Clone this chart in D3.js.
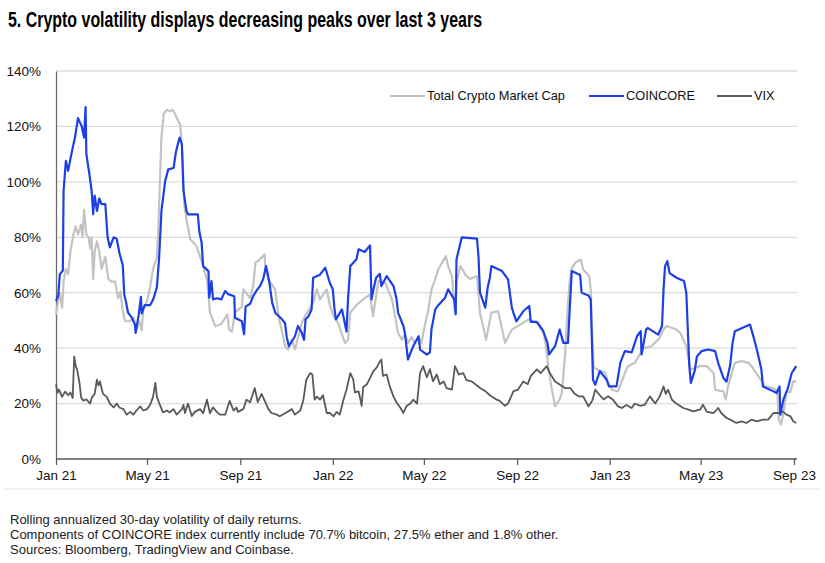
<!DOCTYPE html>
<html><head><meta charset="utf-8">
<script src="https://cdn.jsdelivr.net/npm/d3@7"></script>
<style>
html,body{margin:0;padding:0;background:#fff;}
svg{display:block;}
</style></head>
<body>
<svg id="chart" width="825" height="563"></svg>
<script>
// ---------- DATA (days since 2021-01-01, value in %) ----------
const titleText = "5. Crypto volatility displays decreasing peaks over last 3 years";
const seriesNames = ["Total Crypto Market Cap", "COINCORE", "VIX"];
const yTickValues = [0, 20, 40, 60, 80, 100, 120, 140];
const xTickDates = ["2021-01-01","2021-05-01","2021-09-01","2022-01-01","2022-05-01","2022-09-01","2023-01-01","2023-05-01","2023-09-01"];
const footnotes = [
  "Rolling annualized 30-day volatility of daily returns.",
  "Components of COINCORE index currently include 70.7% bitcoin, 27.5% ether and 1.8% other.",
  "Sources: Bloomberg, TradingView and Coinbase."
];

const coincoreDays = [0,3,5,9,10,13,16,21,25,29,34,37,39,40,44,47,49,51,54,57,60,65,68,71,76,80,84,88,90,92,95,100,104,105,109,112,113,117,124,128,133,136,139,144,148,155,158,161,163,166,168,172,174,187,189,192,194,201,202,205,207,212,218,223,227,235,236,245,248,250,256,260,265,269,273,277,279,282,285,289,298,302,304,307,315,319,324,327,329,333,337,339,348,355,361,365,367,369,377,383,385,388,396,399,407,414,416,418,422,427,429,436,445,449,451,458,460,462,464,471,478,480,489,493,495,500,504,513,517,525,527,528,535,555,557,559,566,569,572,574,588,596,601,603,607,616,624,626,634,642,648,650,658,664,669,675,678,680,691,693,702,705,708,711,717,726,729,739,744,750,759,766,771,772,778,780,794,799,801,803,806,809,818,828,831,833,835,837,842,845,851,860,869,873,880,884,889,892,895,915,920,924,930,932,946,950,954,955,959,965,970,976];
const coincoreVals = [57,59,66.6,68,96.7,107.6,104,111,116,123,120,116,127,110,102.8,96.7,88.3,95,89.5,94,92,92,80,76.4,80,79.5,73.9,70,59.4,57,52.8,51,48.5,45.5,52,58.5,52.5,55.5,55.5,57.5,61.9,72.8,89.5,100.4,104.5,105,110.6,114,116,113.6,97,89.5,88.3,88.3,82,78,69.6,67.8,58.2,64.2,57.6,58,57.6,60.6,59.5,58.7,51,49.7,45,55,56,58.8,61,62.4,64.8,69.6,67,62.4,56.4,52.8,50.4,49,44.3,40.7,44.3,48,45.5,43,50.4,51.5,54,65.4,66.5,69,63.6,61.2,54.6,50.4,54,46,57.6,69.6,72,75.7,74.7,77.1,57.6,60.5,65.4,66.8,62.4,66,62.4,57.6,52.8,48,45.5,40.7,35.9,40.7,44.3,39.5,37.7,38.5,46.7,54,55.5,58.2,61.2,57.6,52.2,72,80,79.5,73.2,60,54.6,61.7,65.4,69.6,67.8,64.8,54.6,52.8,49.7,53.3,55.2,49.5,49.5,46.4,41.9,37.7,40.7,46.7,41.9,41.9,57.6,67.8,66.4,60,59,57.6,28.6,26.8,31.7,28.6,26.2,26.2,34.7,38.9,38.5,44.3,46.1,37.7,46.7,47.3,44.9,48,61.2,69.6,71.4,67.1,65.4,64.2,60,46.7,33.5,27.5,31.7,37,38.9,39.5,38.9,34.7,29.2,27.9,34.1,41.9,46.1,48.5,43.7,39.5,32.3,26.2,24.4,23.8,26.2,16,21.4,25.6,31,33.5];

const totalDays = [0,2,5,8,10,13,16,19,23,26,29,33,35,37,40,43,45,47,49,51,54,57,60,65,69,73,78,82,85,88,91,98,102,107,110,113,115,120,124,128,133,135,137,139,142,146,150,154,157,161,164,167,169,172,177,185,190,194,199,201,203,205,210,218,226,228,232,236,245,247,256,260,263,267,275,276,280,289,294,298,302,306,311,315,324,328,334,339,344,348,357,361,366,372,381,385,388,396,405,414,418,425,434,443,451,456,460,464,469,473,478,482,486,491,495,500,504,514,517,522,526,528,533,541,546,555,559,563,567,574,583,592,601,612,623,634,643,646,649,653,658,664,667,671,674,677,680,685,692,695,703,705,707,709,717,724,728,733,741,750,754,763,768,775,785,796,801,805,818,823,831,834,837,849,858,867,869,880,883,886,895,904,913,917,926,935,946,951,953,956,960,963,968,972,976];
const totalVals = [52,55.5,60,54.6,64,68.6,66.6,75,81,84,81,84.6,80,90,81,80,76,80,65,75,78.5,75,68.6,73,65,64,64,58,60.5,53.5,49.7,49.7,51,47,49.7,46.5,54,57,61.9,68.6,72.8,83.6,100.4,116,124.5,126,125.5,126,124.5,122,120.5,107.6,92,86.5,79.3,76.9,73,69.6,64.8,59.3,52.8,51.5,47.9,48.7,52.2,46.7,46,52.8,55,61.2,58,62.4,70.9,71.5,73.9,68.6,64.8,61.2,50.4,46,40.7,39.5,43,39.5,49,51.5,54,56.4,61.2,57.6,61.2,55.5,51.5,49,41.9,43,52.8,55.5,57.6,59.4,51.5,64.2,63.6,57.6,45.5,43,45,41.9,44,41.9,44,41.9,48,54,61.2,64.8,68.4,73.2,69.6,66,52.8,63.6,69.6,66,65,66,52.8,47.9,43,52.8,53.3,41.9,46.7,48.5,50.4,49,45.5,40.7,33.5,26.2,19,21.4,24,37,51.5,63.6,69,70.9,72,68.4,66,61,44.3,33,31.8,31.2,27.5,25,24.4,31,33.5,34.7,37,40,40.7,43.7,46.7,48,46.7,45.5,40.7,35.9,32.3,33.5,33.5,31,25,24.4,21.4,26.2,34.7,35.3,34.7,33.5,29.9,26.2,25.6,24.5,14.2,12.4,18,24.4,24,28,28];

const vixDays = [0,2,4,8,12,16,19,22,24,26,28,31,33,36,40,45,47,51,54,56,58,60,62,67,71,76,80,84,89,93,98,102,106,111,115,120,124,128,131,133,137,141,146,150,155,159,166,168,170,174,179,183,190,194,199,203,207,212,216,223,229,234,238,240,247,251,256,262,266,271,276,280,284,291,295,302,311,315,322,326,330,335,338,341,344,348,352,357,361,366,370,374,379,383,388,392,394,399,403,405,410,414,418,423,426,429,431,436,440,445,449,454,458,462,467,471,476,480,484,489,493,497,502,506,511,515,522,526,531,537,541,548,555,559,566,572,581,585,592,596,603,609,616,622,626,634,639,647,651,658,664,671,678,684,689,695,702,707,711,717,722,728,734,741,746,752,759,763,770,776,783,790,796,801,804,807,812,818,827,834,840,849,853,858,867,873,877,884,889,897,904,910,917,924,932,939,946,952,958,963,968,972,976];
const vixVals = [26.9,23.9,25,22.4,24.3,23,24,22,37,33.5,32,27.5,22.4,21,21.5,20,22,23.5,28.6,26.5,28,25.5,23.5,22.4,20,18.6,20,18.5,18,16,17,16,17.5,19,17.5,18,19.5,22.4,27.5,22.4,19.5,16.8,17.5,16.8,18,16,18,19.5,16.6,20,15.5,17,18,16.5,21.4,16.5,18.6,17,16,16,21,17.5,18.5,17,18,21.4,20.5,25.6,20.5,23.5,20.5,18,16.6,16,15.4,16.5,18,16,17.5,21,28.6,31,30.5,21.4,22.5,21.4,23,16.6,16.6,15.4,17,16,21.4,25,31,28.6,24,24.4,19.2,26,27,29.2,31.5,33.1,34.7,35.9,30,30.5,26.2,22.5,20.4,18.5,16.6,19,20,21.4,20,31,33.5,29.5,32.4,28,30.5,27,28,25.6,25,33.5,30.5,31,28.5,28,26.5,25.6,24.5,23,21.4,21,19.2,20,24.4,25,28,27,30,32.3,31,33.5,31,28,26.9,25.6,25.6,23.5,22.6,22.6,19,21,25,23,21.5,22.6,21.5,19,18.4,19.5,18.4,20,19.2,19.5,22.6,20,22.6,26.2,23.5,25,21.4,20,18.4,17.8,17.2,17.8,19.6,17,16.6,18.4,16.6,14.8,14.2,13,13.6,13,14.2,13.6,14.2,14.2,16.6,16.6,17.2,16,15.5,13.6,13];

const seriesColors = ["#c3c3c3", "#1d3fe6", "#595959"];

// ---------- CHART ----------
const svg = d3.select("#chart");
const plot = {left: 56, right: 794, top: 71, bottom: 459};
const base = new Date(2021, 0, 1);
const parse = d3.timeParse("%Y-%m-%d");
const toDate = d => d3.timeDay.offset(base, d);

const x = d3.scaleTime().domain([parse(xTickDates[0]), parse(xTickDates[xTickDates.length-1])]).range([plot.left, plot.right]);
const y = d3.scaleLinear().domain([0, 140]).range([plot.bottom, plot.top]);

const font = "'Liberation Sans',Arial,sans-serif";

// title (condensed bold)
svg.append("text").attr("x", 8).attr("y", 27)
  .attr("font-family", font).attr("font-weight", "bold").attr("font-size", 21.5)
  .attr("textLength", 474).attr("lengthAdjust", "spacingAndGlyphs")
  .attr("fill", "#000").text(titleText);

// grid lines
svg.append("g").selectAll("line").data(yTickValues.filter(v => v > 0)).join("line")
  .attr("x1", plot.left).attr("x2", plot.right + 3)
  .attr("y1", d => y(d)).attr("y2", d => y(d))
  .attr("stroke", "#dcdcdc").attr("stroke-width", 1.3);

// y axis
const yAxis = svg.append("g").attr("transform", `translate(${plot.left},0)`)
  .call(d3.axisLeft(y).tickValues(yTickValues).tickFormat(d => d + "%").tickSize(0).tickPadding(15));
yAxis.select(".domain").attr("stroke", "#6a6a6a").attr("stroke-width", 1.3);
yAxis.selectAll("text").attr("font-family", font).attr("font-size", 13.5).attr("fill", "#111");

// x axis
const xAxis = svg.append("g").attr("transform", `translate(0,${plot.bottom})`)
  .call(d3.axisBottom(x).tickValues(xTickDates.map(parse)).tickFormat(d3.timeFormat("%b %y")).tickSizeInner(6).tickSizeOuter(0).tickPadding(5));
xAxis.select(".domain").attr("stroke", "#555").attr("stroke-width", 1.3).attr("d", `M${plot.left},0H${plot.right + 3}`);
xAxis.selectAll(".tick line").attr("stroke", "#555").attr("stroke-width", 1.2);
xAxis.selectAll("text").attr("font-family", font).attr("font-size", 13.5).attr("fill", "#111");

// lines
const line = d3.line().x(d => x(d[0])).y(d => y(d[1])).curve(d3.curveLinear);
const mk = (days, vals) => days.map((d, i) => [toDate(d), vals[i]]);
const totalData = mk(totalDays, totalVals);
const coinData = mk(coincoreDays, coincoreVals);
const vixData = mk(vixDays, vixVals);

svg.append("path").datum(totalData).attr("d", line).attr("fill", "none")
  .attr("stroke", seriesColors[0]).attr("stroke-width", 2.2).attr("stroke-linejoin", "round");
svg.append("path").datum(vixData).attr("d", line).attr("fill", "none")
  .attr("stroke", seriesColors[2]).attr("stroke-width", 1.8).attr("stroke-linejoin", "round");
svg.append("path").datum(coinData).attr("d", line).attr("fill", "none")
  .attr("stroke", seriesColors[1]).attr("stroke-width", 2.2).attr("stroke-linejoin", "round");

// legend
const legendItems = [
  {name: seriesNames[0], color: seriesColors[0], x: 390},
  {name: seriesNames[1], color: seriesColors[1], x: 589},
  {name: seriesNames[2], color: seriesColors[2], x: 717}
];
const lg = svg.append("g").selectAll("g").data(legendItems).join("g")
  .attr("transform", d => `translate(${d.x},96)`);
lg.append("line").attr("x1", 0).attr("x2", 35).attr("y1", 0).attr("y2", 0)
  .attr("stroke", d => d.color).attr("stroke-width", 2.2);
lg.append("text").attr("x", 37).attr("y", 0).attr("dy", "0.35em")
  .attr("font-family", font).attr("font-size", 12.8).attr("fill", "#111").text(d => d.name);

// separator
svg.append("line").attr("x1", 5).attr("x2", 820).attr("y1", 489).attr("y2", 489)
  .attr("stroke", "#e3e3e3").attr("stroke-width", 1);

// footnotes
svg.append("g").selectAll("text").data(footnotes).join("text")
  .attr("x", 10).attr("y", (d, i) => 524 + i * 15)
  .attr("font-family", font).attr("font-size", 13).attr("fill", "#222").text(d => d);
</script>
</body></html>
